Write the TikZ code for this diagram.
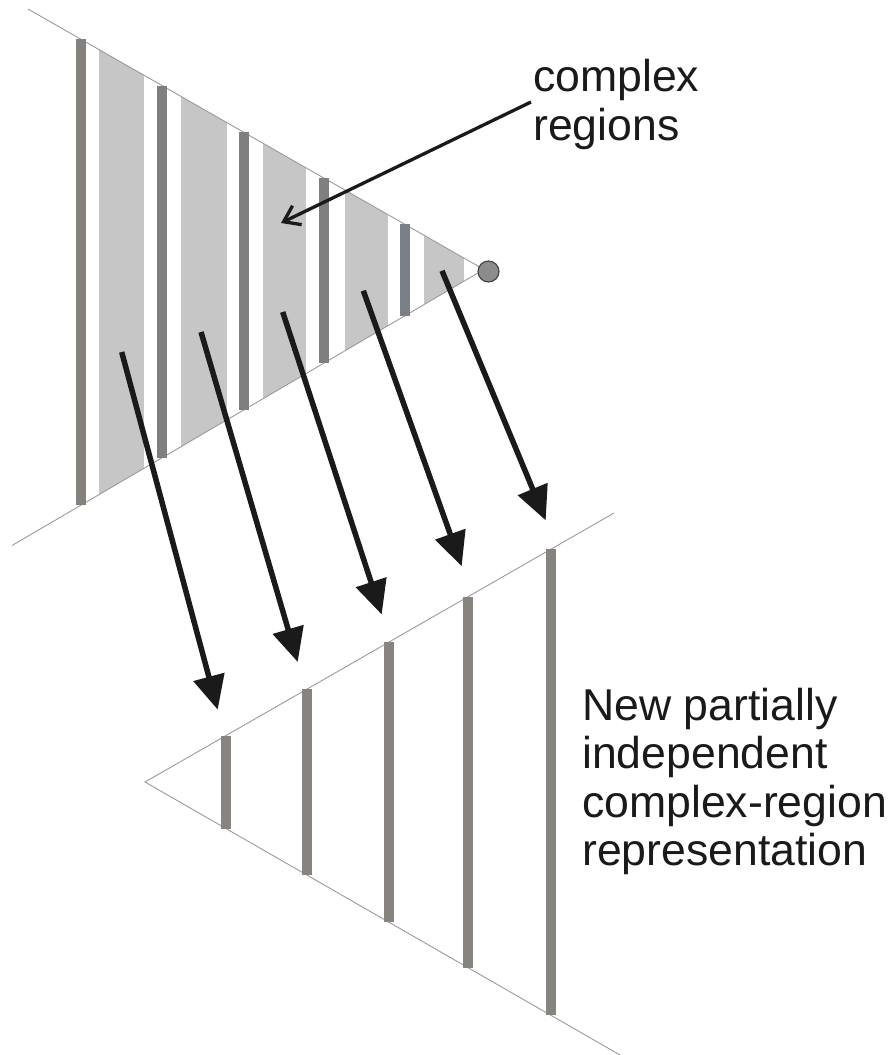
\documentclass[tikz,border=0pt]{standalone}
\usepackage{fontspec}
\setmainfont{Liberation Sans}
\usetikzlibrary{arrows.meta}

\definecolor{guideline}{HTML}{9A9A9A}
\definecolor{regionfill}{HTML}{C5C6C5}
\definecolor{barwarm}{HTML}{85817C}
\definecolor{barmid}{HTML}{7F7F7F}
\definecolor{barcool}{HTML}{7A8088}
\definecolor{barnew}{HTML}{87847F}
\definecolor{arrowink}{HTML}{1A1A1A}
\definecolor{dotfill}{HTML}{8C8C8C}

\begin{document}
\begin{tikzpicture}[x=1pt,y=-1pt,
  guide/.style={draw=guideline, line width=0.9pt},
  region/.style={fill=regionfill},
  mapping/.style={draw=arrowink, line width=5.5pt, -{Triangle[length=34pt,width=31pt]}},
  callout/.style={draw=arrowink, line width=3.3pt, -{Straight Barb[length=15pt,width=21pt]}},
  label/.style={inner sep=0pt, anchor=base west, align=left, text=arrowink,
    font=\fontsize{44.6}{48.5}\selectfont}]
\useasboundingbox (0,0) rectangle (893,1055);

% ---- original wedge ----
\coordinate (tul) at (28,9);
\coordinate (tapex) at (484,269.5);
\coordinate (tll) at (12,545.5);

% light complex regions between the cuts
\begin{scope}
  \clip (tul) -- (tapex) -- (tll) -- cycle;
  \fill[region] (99,0) rectangle (144,560);
  \fill[region] (181,0) rectangle (227,560);
  \fill[region] (263,0) rectangle (306,560);
  \fill[region] (345,0) rectangle (388,560);
  \fill[region] (424,0) rectangle (464,560);
\end{scope}

\draw[guide] (tul) -- (tapex) -- (tll);

% cuts of the original wedge
\fill[barwarm] (76,39.3) rectangle (86,505.2);
\fill[barmid]  (157,85.6) rectangle (167,457.8);
\fill[barmid]  (239,132.4) rectangle (249,409.9);
\fill[barmid]  (319,178.1) rectangle (329,363.1);
\fill[barcool] (400,224.4) rectangle (410,315.7);

\node[circle, minimum size=21pt, inner sep=0pt, fill=dotfill, draw=black!75, line width=1.1pt]
  (dot) at (488.5,271.5) {};

% ---- new wedge ----
\coordinate (bapex) at (145,782);
\coordinate (bur) at (614,513);
\coordinate (blr) at (620,1055);
\draw[guide] (bur) -- (bapex) -- (blr);

\fill[barnew] (220.8,735.5) rectangle (231.2,828.6);
\fill[barnew] (301.8,689.1) rectangle (312.2,875.1);
\fill[barnew] (383.8,642.0) rectangle (394.2,922.2);
\fill[barnew] (462.8,596.7) rectangle (473.2,967.6);
\fill[barnew] (545.8,549.1) rectangle (556.2,1015.3);

% ---- mapping arrows ----
\coordinate (s1) at (121.7,352);   \coordinate (e1) at (217.7,709.7);
\coordinate (s2) at (201,332);     \coordinate (e2) at (297.7,662);
\coordinate (s3) at (282.7,312);   \coordinate (e3) at (381.7,614.5);
\coordinate (s4) at (363.3,290.7); \coordinate (e4) at (461.7,566.2);
\coordinate (s5) at (442,270.8);   \coordinate (e5) at (545.7,520.4);
\foreach \i in {1,...,5} \draw[mapping] (s\i) -- (e\i);

% ---- labels (base anchor sits on the last line) ----
\node[label] (lblregions) at (533,140.2) {complex\\regions};
\coordinate (cstart) at (531,102);
\coordinate (cend) at (281,223);
\draw[callout] (cstart) -- (cend);

\node[label] (lblnew) at (582,865.5) {New partially\\independent\\complex-region\\representation};
\end{tikzpicture}
\end{document}
